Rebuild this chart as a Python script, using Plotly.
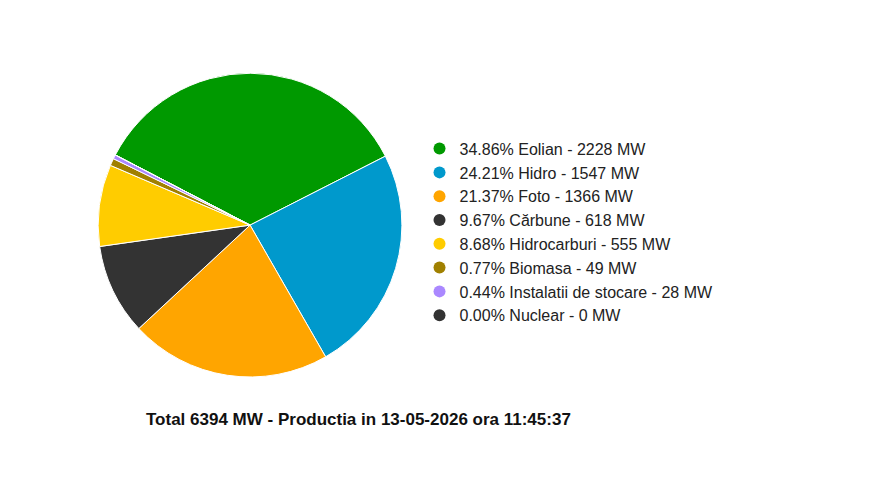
import plotly.graph_objects as go

sources = ["Eolian", "Hidro", "Foto", "Cărbune", "Hidrocarburi", "Biomasa", "Instalatii de stocare", "Nuclear"]
mw = [2228, 1547, 1366, 618, 555, 49, 28, 0]
percents = ["34.86%", "24.21%", "21.37%", "9.67%", "8.68%", "0.77%", "0.44%", "0.00%"]
colors = ["#009900", "#0099cc", "#ffa500", "#333333", "#ffcc00", "#a08000", "#aa88ff", "#333333"]
total_mw = 6394
stamp = "13-05-2026 ora 11:45:37"

fig = go.Figure()
fig.add_trace(go.Pie(
    labels=sources, values=mw, sort=False, direction="clockwise", rotation=-62.5,
    marker=dict(colors=colors, line=dict(color="white", width=1)),
    textinfo="none", showlegend=False,
    domain=dict(x=[0.1034, 0.453], y=[0.2392, 0.8655]),
))

# dummy traces so the legend gets round markers
for s, v, p, c in zip(sources, mw, percents, colors):
    fig.add_trace(go.Scatter(
        x=[None], y=[None], mode="markers", name=f"{p} {s} - {v} MW",
        marker=dict(color=c, size=14, symbol="circle"),
    ))

fig.update_layout(
    width=870, height=485, margin=dict(l=0, r=0, t=0, b=0),
    paper_bgcolor="white", plot_bgcolor="white",
    font=dict(family="Liberation Sans, Arial", size=16, color="#222"),
    xaxis=dict(visible=False), yaxis=dict(visible=False),
    legend=dict(x=0.473, y=0.745, xanchor="left", yanchor="top",
                itemsizing="constant", tracegroupgap=0, font=dict(size=16)),
    annotations=[dict(
        text=f"<b>Total {total_mw} MW - Productia in {stamp}</b>",
        x=136 / 870, y=1 - 423 / 485, xref="paper", yref="paper", xanchor="left",
        showarrow=False, font=dict(size=17, color="#111"),
    )],
)

fig.write_html("out.html")
